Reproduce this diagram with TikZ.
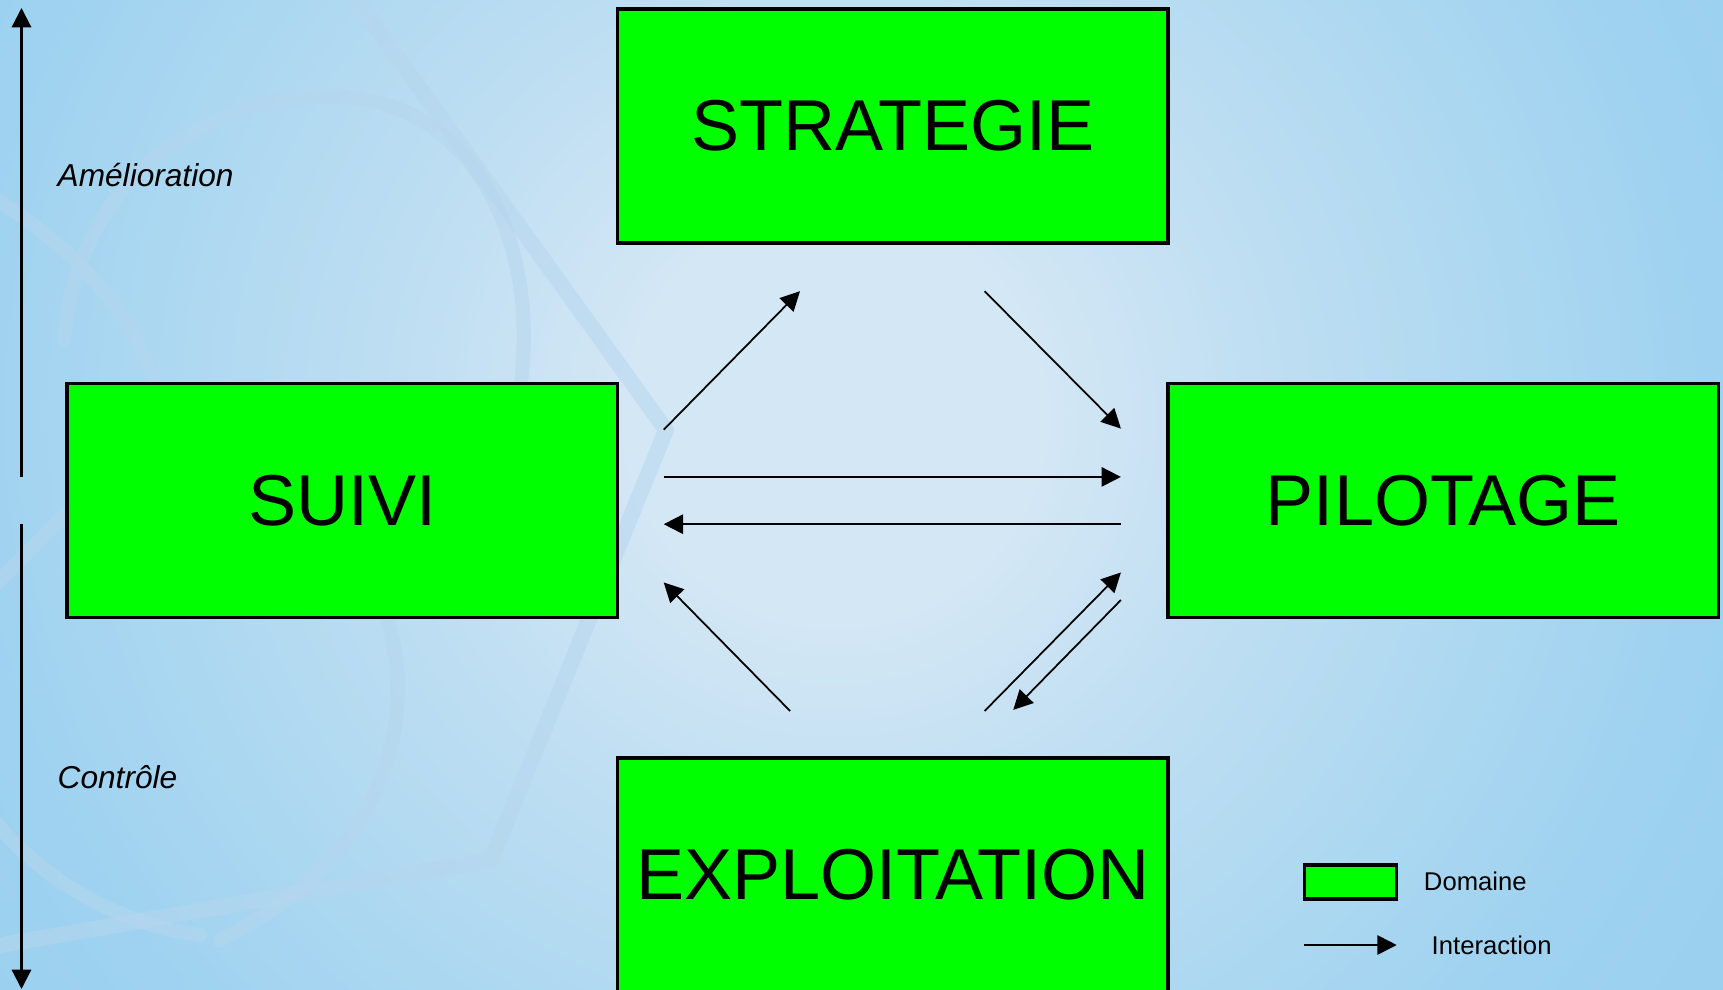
\documentclass[tikz,border=0pt]{standalone}
\usepackage{fontspec}
\setmainfont{Liberation Sans}
\usetikzlibrary{arrows.meta,positioning,calc}
\definecolor{vert}{HTML}{00FF00}
\definecolor{fondclair}{RGB}{212,231,245}
\definecolor{fondmoyen}{RGB}{190,222,242}
\definecolor{fondbleu}{RGB}{158,210,240}
\definecolor{fondvif}{RGB}{150,205,237}
\definecolor{fondfonce}{RGB}{143,197,228}
\definecolor{bande}{RGB}{182,214,238}
\pgfdeclareradialshading{fond}{\pgfpoint{0bp}{0bp}}{color(0bp)=(fondclair); color(3.6bp)=(fondclair);
  color(7.9bp)=(fondmoyen); color(15.7bp)=(fondbleu); color(22.9bp)=(fondvif); color(33.6bp)=(fondfonce);
  color(50bp)=(fondfonce)}
\tikzset{
  domaine/.style={draw,line width=1pt,fill=vert,minimum width=55.05mm,minimum height=23.4mm,
                  inner sep=0pt,outer sep=0pt,font=\fontsize{20.5}{24}\selectfont},
  fleche/.style={-{Triangle[length=5.5pt,width=5.5pt]},line width=0.5pt},
  axe/.style={-{Triangle[length=5.5pt,width=5.5pt]},line width=0.6pt},
  etiq/.style={anchor=west,inner sep=0pt,font=\fontsize{9}{11}\selectfont\itshape},
  legende/.style={anchor=west,inner sep=0pt,font=\fontsize{7.3}{9}\selectfont},
  trace/.style={bande,opacity=0.55,line width=4pt,line cap=round,line join=round},
}

\begin{document}
\begin{tikzpicture}[x=0.1mm,y=-0.1mm]
  \useasboundingbox (0,0) rectangle (1723,990);
  \clip (0,0) rectangle (1723,990);
  % fond
  \fill[fondfonce] (0,0) rectangle (1723,990);
  \shade[shading=fond] (835,415) circle (1400);
  \draw[trace,line width=4.5pt] (349,-10) -- (666,430) -- (491,860) -- (-10,947);
  \draw[trace] (64,340) .. controls (80,150) and (250,80) .. (367,100)
               .. controls (480,120) and (540,250) .. (520,390);
  \draw[trace] (-10,195) .. controls (60,240) and (130,300) .. (155,385);
  \draw[trace] (381,600) .. controls (420,700) and (400,850) .. (220,940);
  \draw[trace] (-10,590) .. controls (20,560) and (50,530) .. (64,515);
  \draw[trace] (-10,815) .. controls (40,880) and (120,925) .. (200,935);

  % domaines
  \node[domaine] (strategie) at (892.9,125.8) {STRATEGIE};
  \node[domaine,below left=14.06mm and 0mm of strategie.south west] (suivi) {SUIVI};
  \node[domaine,below right=14.06mm and 0mm of strategie.south east] (pilotage) {PILOTAGE};
  \node[domaine,below right=14.06mm and 0mm of suivi.south east] (exploitation) {EXPLOITATION};

  % interactions
  \coordinate (su-st-a) at (663.7,429.7);  \coordinate (su-st-b) at (800,291.2);
  \coordinate (st-pi-a) at (984.6,291.2);  \coordinate (st-pi-b) at (1120.9,428.6);
  \coordinate (su-pi-a) at (663.7,476.9);  \coordinate (su-pi-b) at (1120.9,476.9);
  \coordinate (pi-su-a) at (1120.9,524.2); \coordinate (pi-su-b) at (663.7,524.2);
  \coordinate (ex-su-a) at (790.1,711);    \coordinate (ex-su-b) at (663.7,582.4);
  \coordinate (ex-pi-a) at (984.6,711);    \coordinate (ex-pi-b) at (1120.9,572.5);
  \coordinate (pi-ex-a) at (1120.9,600);   \coordinate (pi-ex-b) at (1013.2,709.9);
  \draw[fleche] (su-st-a) -- (su-st-b);
  \draw[fleche] (st-pi-a) -- (st-pi-b);
  \draw[fleche] (su-pi-a) -- (su-pi-b);
  \draw[fleche] (pi-su-a) -- (pi-su-b);
  \draw[fleche] (ex-su-a) -- (ex-su-b);
  \draw[fleche] (ex-pi-a) -- (ex-pi-b);
  \draw[fleche] (pi-ex-a) -- (pi-ex-b);

  % axe vertical
  \coordinate (axe-h1) at (21.5,476.9); \coordinate (axe-h2) at (21.5,8);
  \coordinate (axe-b1) at (21.5,524.3); \coordinate (axe-b2) at (21.5,989);
  \draw[axe] (axe-h1) -- (axe-h2);
  \draw[axe] (axe-b1) -- (axe-b2);
  \node[etiq] (amelioration) at (57,174.7) {Amélioration};
  \node[etiq] (controle) at (57,777) {Contrôle};

  % legende
  \node[draw,line width=1pt,fill=vert,minimum width=9.2mm,minimum height=3.4mm,inner sep=0pt]
    (leg-domaine) at (1350.5,881.8) {};
  \node[legende,right=2.5mm of leg-domaine] (leg-domaine-txt) {Domaine};
  \coordinate (leg-a) at (1304.4,945); \coordinate (leg-b) at (1396.7,945);
  \draw[fleche] (leg-a) -- (leg-b);
  \node[legende] (leg-interaction) at (1431,945) {Interaction};
\end{tikzpicture}
\end{document}
